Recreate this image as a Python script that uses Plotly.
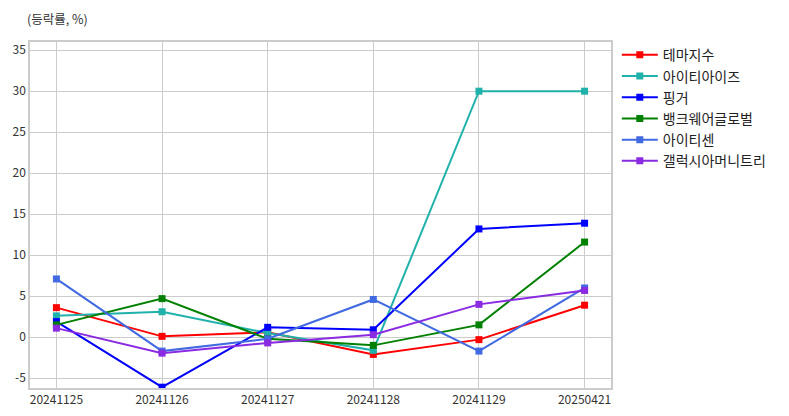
import plotly.graph_objects as go

dates = ["20241125", "20241126", "20241127", "20241128", "20241129", "20250421"]
names = ["테마지수", "아이티아이즈", "핑거", "뱅크웨어글로벌", "아이티센", "갤럭시아머니트리"]
theme = [3.6, 0.1, 0.6, -2.1, -0.3, 3.9]
itize = [2.6, 3.1, 0.5, -1.6, 30.0, 30.0]
finger = [1.9, -6.1, 1.2, 0.9, 13.2, 13.9]
bankware = [1.5, 4.7, -0.2, -1.0, 1.5, 11.6]
itcen = [7.1, -1.7, -0.2, 4.6, -1.7, 6.0]
galaxia = [1.1, -1.95, -0.7, 0.3, 4.0, 5.7]
series = [theme, itize, finger, bankware, itcen, galaxia]
colors = ["#ff0000", "#20b2aa", "#0000ff", "#008000", "#4169e1", "#8a2be2"]
y_ticks = [-5, 0, 5, 10, 15, 20, 25, 30, 35]
y_labels = ["-5", "0", "5", "10", "15", "20", "25", "30", "35"]

font = "Noto Sans CJK KR"
fig = go.Figure()
for n, s, c in zip(names, series, colors):
    fig.add_trace(go.Scatter(
        x=list(range(len(dates))), y=s, name=n, mode="lines+markers",
        line=dict(color=c, width=2), marker=dict(symbol="square", size=7, color=c)))

fig.update_layout(
    width=781, height=408,
    margin=dict(l=22, r=178, t=34, b=28, autoexpand=False),
    paper_bgcolor="white", plot_bgcolor="white",
    font=dict(family=font, size=12, color="#333333"),
    showlegend=True,
    legend=dict(x=1.01, y=1.008, xanchor="left", yanchor="top", itemwidth=36,
                font=dict(family=font, size=14, color="#222222"),
                bgcolor="rgba(0,0,0,0)", tracegroupgap=0),
    annotations=[dict(text="(등락률, %)", xref="paper", yref="paper", x=-0.009, y=1.069,
                      xanchor="left", yanchor="middle", showarrow=False,
                      font=dict(family=font, size=12.5, color="#333333"))],
)
fig.update_xaxes(tickmode="array", tickvals=list(range(len(dates))), ticktext=dates,
                 range=[-0.25, 5.25], showgrid=True, gridcolor="#cccccc", gridwidth=1,
                 showline=True, linecolor="#cccccc", linewidth=1.5, mirror=True,
                 zeroline=False, ticks="", automargin=False,
                 tickfont=dict(size=12, color="#333333"))
fig.update_yaxes(range=[-6.2, 36], tickmode="array", tickvals=y_ticks, ticktext=y_labels,
                 showgrid=True, gridcolor="#cccccc", gridwidth=1,
                 showline=True, linecolor="#cccccc", linewidth=1.5, mirror=True,
                 zeroline=False, ticks="", automargin=False,
                 tickfont=dict(size=12, color="#333333"))
fig.write_html("out.html")
